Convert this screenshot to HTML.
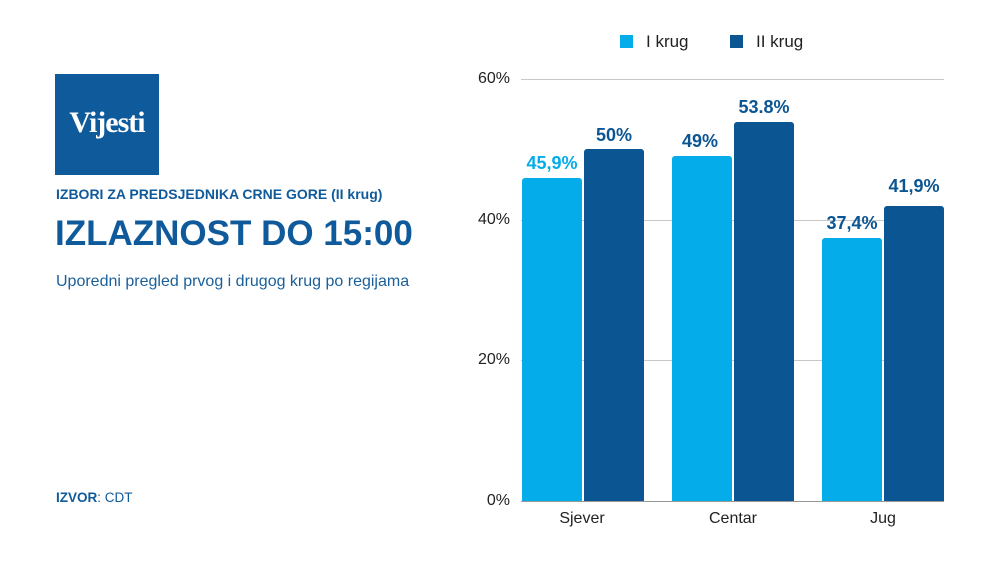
<!DOCTYPE html>
<html><head><style>
body{margin:0;width:1000px;height:563px;background:#fff;position:relative;font-family:"Liberation Sans",sans-serif;overflow:hidden}
.a{position:absolute}
.g{position:absolute;left:521px;width:423px;height:1px;background:#c8c8c8}
.yl{position:absolute;left:455px;width:55px;text-align:right;font-size:16px;color:#222}
.b{position:absolute;width:60px;border-radius:3px 3px 0 0}
.L{background:#05acea}.D{background:#0b5592}
.v{position:absolute;width:80px;text-align:center;font-weight:bold;font-size:18px}
.xl{position:absolute;width:120px;text-align:center;font-size:16px;color:#222;top:510px}
</style></head><body>
<div class="a" style="left:55px;top:74px;width:104px;height:101px;background:#0f5a9a"></div>
<div class="a" style="left:55px;top:106px;width:104px;text-align:center;color:#fff;font-family:'Liberation Serif',serif;font-weight:bold;font-size:30px;letter-spacing:-1px">Vijesti</div>
<div class="a" style="left:56px;top:186px;font-size:14px;font-weight:bold;color:#0f5a9a">IZBORI ZA PREDSJEDNIKA CRNE GORE (II krug)</div>
<div class="a" style="left:55px;top:214px;font-size:35px;font-weight:bold;color:#0f5a9a">IZLAZNOST DO 15:00</div>
<div class="a" style="left:56px;top:273px;font-size:16px;color:#1a5f9a">Uporedni pregled prvog i drugog krug po regijama</div>
<div class="a" style="left:56px;top:490px;font-size:13.5px;color:#0f5a9a"><b>IZVOR</b>: CDT</div>

<div class="a" style="left:620px;top:35px;width:13px;height:13px;background:#05acea"></div>
<div class="a" style="left:646px;top:32px;font-size:17px;color:#222">I krug</div>
<div class="a" style="left:730px;top:35px;width:13px;height:13px;background:#0b5592"></div>
<div class="a" style="left:756px;top:32px;font-size:17px;color:#222">II krug</div>

<div class="g" style="top:79px"></div><div class="g" style="top:220px"></div><div class="g" style="top:360px"></div><div class="g" style="top:501px;background:#999"></div>
<div class="yl" style="top:70px">60%</div><div class="yl" style="top:211px">40%</div><div class="yl" style="top:351px">20%</div><div class="yl" style="top:492px">0%</div>

<div class="b L" style="left:522px;top:178px;height:323px"></div>
<div class="b D" style="left:584px;top:149px;height:352px"></div>
<div class="b L" style="left:672px;top:156px;height:345px"></div>
<div class="b D" style="left:734px;top:122px;height:379px"></div>
<div class="b L" style="left:822px;top:238px;height:263px"></div>
<div class="b D" style="left:884px;top:206px;height:295px"></div>

<div class="v" style="left:512px;top:153px;color:#05acea">45,9%</div>
<div class="v" style="left:574px;top:125px;color:#0b5592">50%</div>
<div class="v" style="left:660px;top:131px;color:#0b5592">49%</div>
<div class="v" style="left:724px;top:97px;color:#0b5592">53.8%</div>
<div class="v" style="left:812px;top:213px;color:#0b5592">37,4%</div>
<div class="v" style="left:874px;top:176px;color:#0b5592">41,9%</div>

<div class="xl" style="left:522px">Sjever</div>
<div class="xl" style="left:673px">Centar</div>
<div class="xl" style="left:823px">Jug</div>
</body></html>
